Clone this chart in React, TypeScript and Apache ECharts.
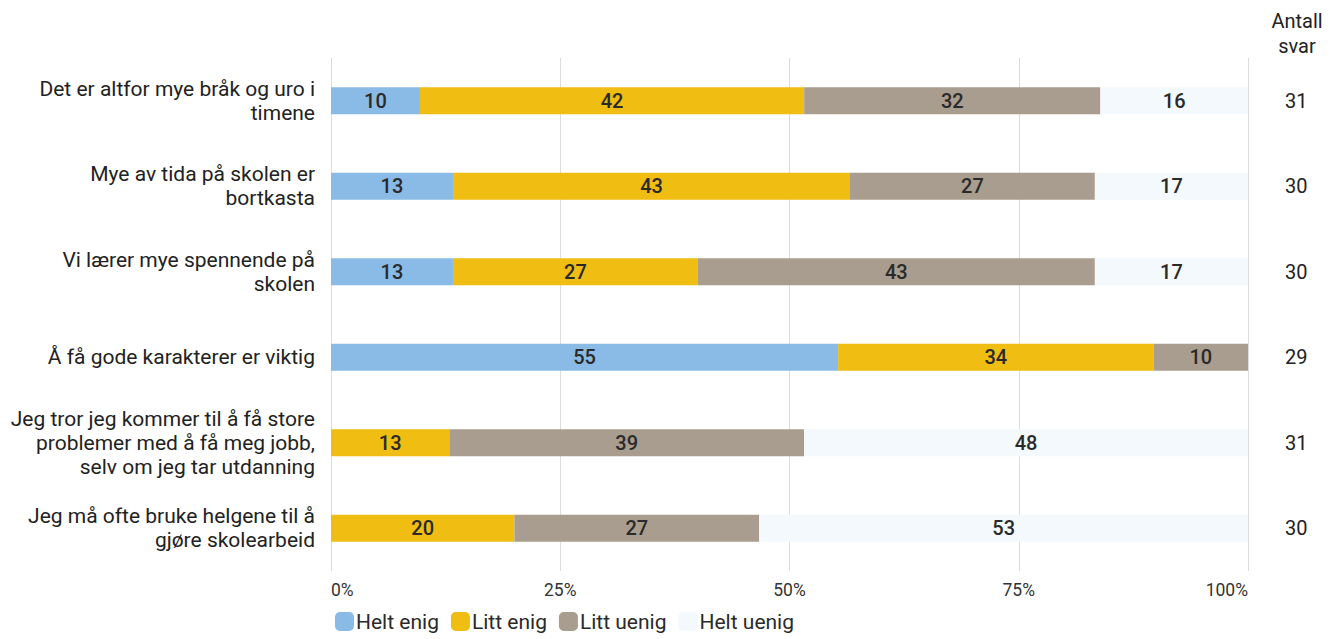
import React, { useEffect, useRef } from "react";
import * as echarts from "echarts";

const categories = [
  "Det er altfor mye bråk og uro i\ntimene",
  "Mye av tida på skolen er\nbortkasta",
  "Vi lærer mye spennende på\nskolen",
  "Å få gode karakterer er viktig",
  "Jeg tror jeg kommer til å få store\nproblemer med å få meg jobb,\nselv om jeg tar utdanning",
  "Jeg må ofte bruke helgene til å\ngjøre skolearbeid",
];
const antallSvar = ["31", "30", "30", "29", "31", "30"];
const heltEnig = [9.7, 13.3, 13.3, 55.3, null, null];
const littEnig = [41.9, 43.3, 26.7, 34.4, 12.9, 20.0];
const littUenig = [32.3, 26.7, 43.3, 10.3, 38.7, 26.7];
const heltUenig = [16.1, 16.7, 16.7, null, 48.4, 53.3];
const seriesNames = ["Helt enig", "Litt enig", "Litt uenig", "Helt uenig"];
const xTicks = [0, 25, 50, 75, 100];

const colors = ["#89bbe6", "#f0bd12", "#a99d8f", "#f3f9fc"];
const FONT = "Roboto, 'Noto Sans', sans-serif";

export default function App() {
  const ref = useRef<HTMLDivElement>(null);
  useEffect(() => {
    const chart = echarts.init(ref.current!, null, { renderer: "svg" });
    const data = [heltEnig, littEnig, littUenig, heltUenig];
    chart.setOption({
      animation: false,
      textStyle: { fontFamily: FONT },
      grid: { left: 331, right: 87, top: 58, bottom: 68, containLabel: false },
      legend: {
        data: seriesNames,
        left: 330,
        bottom: 2,
        icon: "roundRect",
        itemWidth: 19,
        itemHeight: 19,
        itemGap: 12,
        textStyle: { fontSize: 21, color: "#2a2a2a", fontFamily: FONT, padding: [0, 0, 0, -3] },
      },
      xAxis: {
        type: "value",
        min: xTicks[0],
        max: xTicks[xTicks.length - 1],
        interval: 25,
        axisLine: { show: false },
        axisTick: { show: false },
        splitLine: { show: true, lineStyle: { color: "#dcdcdc", width: 1 } },
        axisLabel: {
          formatter: "{value}%",
          fontSize: 17.5,
          color: "#333",
          margin: 10,
          alignMinLabel: "left",
          alignMaxLabel: "right",
        },
      },
      yAxis: [
        {
          type: "category",
          data: categories,
          inverse: true,
          axisLine: { show: false },
          axisTick: { show: false },
          axisLabel: {
            fontSize: 21,
            lineHeight: 24,
            color: "#222",
            margin: 16,
            align: "right",
          },
        },
        {
          type: "category",
          data: antallSvar,
          inverse: true,
          position: "right",
          axisLine: { show: false },
          axisTick: { show: false },
          axisLabel: { fontSize: 20, color: "#222", margin: 37 },
        },
      ],
      graphic: [
        {
          type: "text",
          x: 1297,
          y: 8,
          style: {
            text: "Antall\nsvar",
            font: `20px ${FONT}`,
            lineHeight: 25,
            fill: "#222",
            align: "center",
          },
        },
      ],
      series: seriesNames.map((name, i) => ({
        name,
        type: "bar",
        stack: "total",
        yAxisIndex: 0,
        barWidth: 27,
        data: data[i],
        itemStyle: { color: colors[i] },
        label: {
          show: true,
          position: "inside",
          fontSize: 20,
          fontWeight: 500,
          color: "#2a2a2a",
          fontFamily: FONT,
          formatter: (p: any) =>
            p.value == null ? "" : String(Math.round(p.value)),
        },
      })),
    });
    return () => chart.dispose();
  }, []);
  return (
    <div
      ref={ref}
      style={{ position: "fixed", left: 0, top: 0, width: 1335, height: 639, background: "#fff" }}
    />
  );
}
